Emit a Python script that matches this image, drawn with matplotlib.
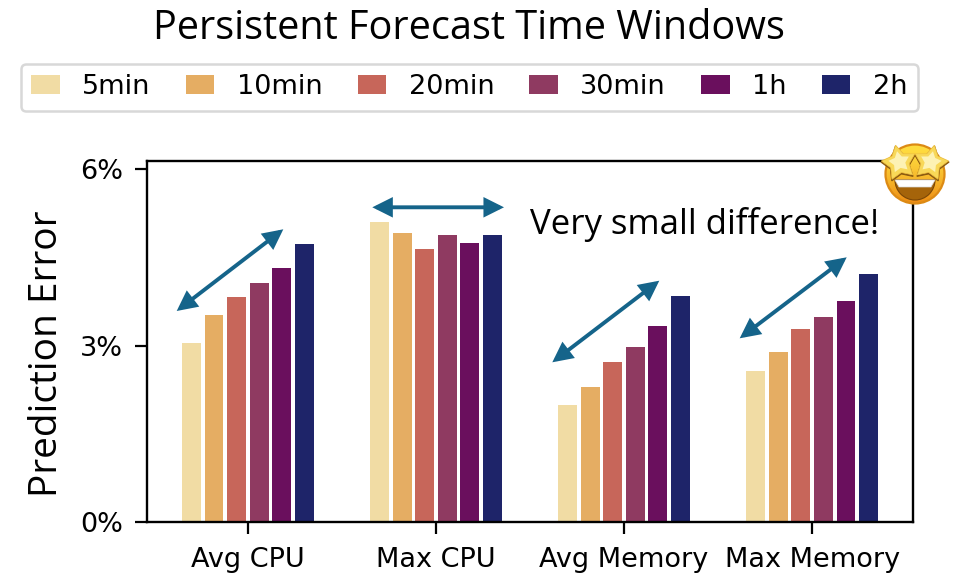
import matplotlib
matplotlib.use("Agg")
import matplotlib.pyplot as plt
import numpy as np
from matplotlib.patches import Circle, Polygon, Wedge, FancyArrowPatch

categories = ["Avg CPU", "Max CPU", "Avg Memory", "Max Memory"]
windows = ["5min", "10min", "20min", "30min", "1h", "2h"]
colors = ["#f1dca4", "#e5ad63", "#c7665a", "#8f3a61", "#6a0f5d", "#1e2469"]

err_5min = [3.04, 5.11, 1.99, 2.57]
err_10min = [3.52, 4.91, 2.30, 2.90]
err_20min = [3.83, 4.65, 2.72, 3.29]
err_30min = [4.06, 4.89, 2.98, 3.49]
err_1h = [4.32, 4.75, 3.34, 3.76]
err_2h = [4.73, 4.88, 3.84, 4.22]
series = [err_5min, err_10min, err_20min, err_30min, err_1h, err_2h]

W, H = 957, 575
fig = plt.figure(figsize=(W / 100, H / 100), dpi=100)
ax = fig.add_axes([147.3 / W, 1 - 522.3 / H, (912.7 - 147.3) / W, (522.3 - 161) / H])

x = np.arange(len(categories))
step = 0.12
handles = []
for i, vals in enumerate(series):
    b = ax.bar(x + (i - 2.5) * step, vals, width=0.1, color=colors[i], label=windows[i])
    handles.append(b)

ax.set_xlim(-0.535, 3.535)
ax.set_ylim(0, 6.14)
ax.set_xticks(x)
ax.set_xticklabels(categories)
ax.set_yticks([0, 3, 6])
ax.set_yticklabels(["0%", "3%", "6%"])
ax.tick_params(labelsize=19.5, length=8.6, width=1.6)
ax.tick_params(axis="x", pad=9)
ax.tick_params(axis="y", pad=9)
for s in ax.spines.values():
    s.set_linewidth(1.7)

# overlay in pixel coordinates for the slide annotations
ov = fig.add_axes([0, 0, 1, 1], zorder=5)
ov.set_xlim(0, W)
ov.set_ylim(H, 0)
ov.axis("off")
ov.patch.set_alpha(0)

ov.text(469, 29, "Persistent Forecast Time Windows", fontsize=28.5, family="Open Sans",
        ha="center", va="center")
ov.text(47, 354, "Prediction Error", fontsize=28, family="Open Sans", rotation=90,
        ha="center", va="center")
ov.text(705, 224, "Very small difference!", fontsize=25, family="Open Sans",
        ha="center", va="center")

fig.legend(handles=handles, labels=windows, ncol=6, loc="center",
           bbox_to_anchor=(469.3 / W, 1 - 87.4 / H), fontsize=19.5,
           handlelength=1.05, handleheight=0.71, handletextpad=0.83,
           columnspacing=1.3, borderpad=0.4, borderaxespad=0,
           edgecolor="#d8d8d8", framealpha=1).get_frame().set_linewidth(1.8)

arrows = [((176.7, 311), (283.3, 229.3)),
          ((372.3, 207.3), (504, 207.3)),
          ((552.3, 362.3), (659.3, 280.7)),
          ((739.7, 338.3), (846.7, 257.3))]
for a, c in arrows:
    ov.add_patch(FancyArrowPatch(a, c, arrowstyle="<|-|>,head_length=5.4,head_width=2.7",
                                 mutation_scale=1.9, lw=2.8, color="#15648a",
                                 joinstyle="miter", capstyle="butt",
                                 shrinkA=0, shrinkB=0))


def star(cx, cy, r, rot):
    ang = np.deg2rad(np.arange(10) * 36 - 90 + rot)
    rad = np.where(np.arange(10) % 2 == 0, r, r * 0.55)
    return np.column_stack([cx + rad * np.cos(ang), cy + rad * np.sin(ang)])


# star-struck emoji
cx, cy, r = 915, 174, 29.5
yy, xx = np.mgrid[0:1:120j, 0:1:120j]
grad = np.zeros((120, 120, 3))
top = np.array([1.0, 0.87, 0.25])
bot = np.array([0.93, 0.55, 0.08])
for k in range(3):
    grad[:, :, k] = top[k] + (bot[k] - top[k]) * yy ** 1.4
im = ov.imshow(grad, extent=(cx - r, cx + r, cy + r, cy - r), zorder=6, aspect="auto")
im.set_clip_path(Circle((cx, cy), r, transform=ov.transData))
ov.set_xlim(0, W)
ov.set_ylim(H, 0)
ov.add_patch(Circle((cx, cy), r, fill=False, ec="#dc8a14", lw=1.6, zorder=7))
ov.add_patch(Wedge((cx, 180), 20, 0, 180, fc="#a5640a", ec="#7a4606", lw=0.8, zorder=7))
ov.add_patch(Polygon([(895, 180), (935, 180), (931, 187), (899, 187)], fc="white",
                     ec="#d8d8d8", lw=0.5, zorder=8))
for sx, rot in [(899.3, -12), (930.7, 12)]:
    ov.add_patch(Polygon(star(sx, 164, 18.5, rot), fc="#8a5a10", ec="#8a5a10", lw=0.8, zorder=8))
    ov.add_patch(Polygon(star(sx, 162.8, 18, rot), fc="#f8d858", ec="#f0c040", lw=0.5, zorder=9))
    ov.add_patch(Polygon(star(sx, 162, 11, rot), fc="#fdf2b4", ec="none", zorder=10))

fig.savefig("out.png", dpi=100)
